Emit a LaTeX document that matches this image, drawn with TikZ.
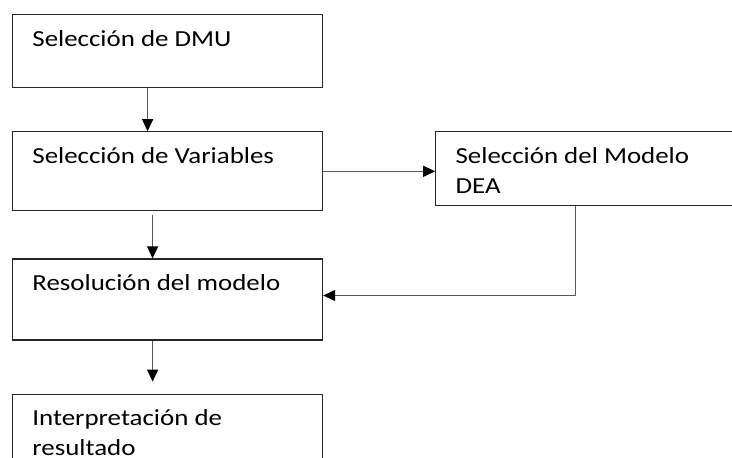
\documentclass[tikz,border=0pt]{standalone}
\usepackage{fontspec}
\setmainfont{Carlito}[FakeStretch=1.17]
\usetikzlibrary{arrows.meta,positioning}

\begin{document}
\begin{tikzpicture}[
    x=0.5pt, y=-0.5pt,
    box/.style={draw=black!85, line width=0.6pt, minimum width=155pt, inner sep=0pt},
    txt/.style={anchor=north west, inner sep=0pt, align=left, xshift=10pt, yshift=-8pt,
                font=\fontsize{11.5}{15}\selectfont},
    arrow/.style={draw=black!65, line width=0.6pt, -{Triangle[length=6pt,width=5.5pt,color=black]}}
]
\clip (0,0) rectangle (732,457);
\node[box, minimum height=36.5pt, anchor=north west, label={[txt]north west:Selección de DMU}] (dmu) at (12,14) {};
\node[box, minimum height=39.5pt, below=21.5pt of dmu, label={[txt]north west:Selección de Variables}] (var) {};
\node[box, minimum height=40.5pt, below=23.5pt of var, label={[txt]north west:Resolución del modelo}] (res) {};
\node[box, minimum height=60pt, below=26.5pt of res, label={[txt]north west:Interpretación de\\resultado}] (inter) {};
\node[box, minimum width=180pt, minimum height=37pt, right=56pt of var.north east, anchor=north west,
      label={[txt]north west:Selección del Modelo\\DEA}] (dea) {};

\draw[arrow] ([xshift=-10pt]dmu.south) -- ([xshift=-10pt]var.north);
\draw[arrow] (var.east) -- (var.east -| dea.west);
\draw[arrow] ([xshift=-7.5pt,yshift=-2pt]var.south) -- ([xshift=-7.5pt]res.north);
\draw[arrow] ([xshift=-7.5pt]res.south) -- ([xshift=-7.5pt,yshift=6pt]inter.north);
\draw[arrow] ([xshift=-20pt]dea.south) |- ([yshift=2pt]res.east);
\end{tikzpicture}
\end{document}
